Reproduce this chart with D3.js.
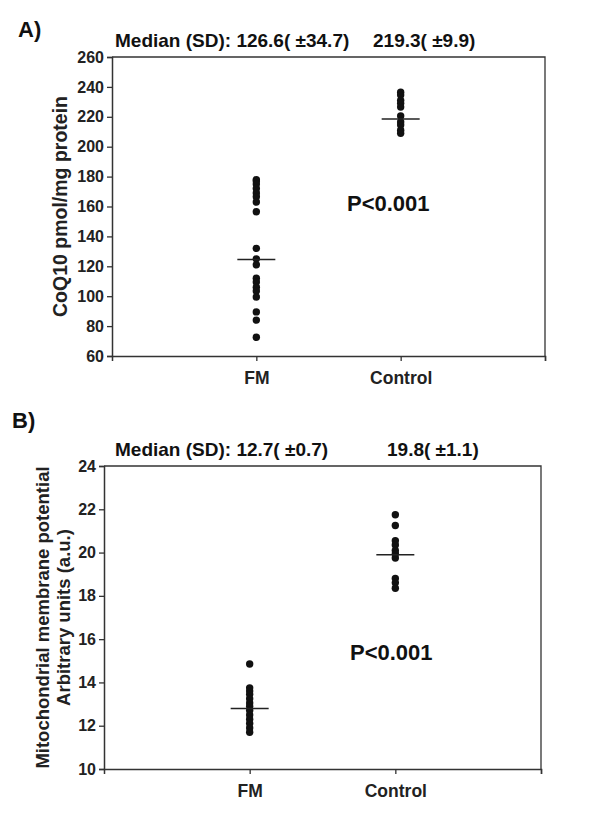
<!DOCTYPE html>
<html>
<head>
<meta charset="utf-8">
<script src="https://cdn.jsdelivr.net/npm/d3@7"></script>
<style>
    body { margin: 0; background: #fff; }
    svg { font-family: "Liberation Sans", Arial, sans-serif; font-weight: bold; }
</style>
</head>
<body>
<div id="chart"></div>
<script>
// Groups on the x axis
const categories = ["FM", "Control"];

// Panel A : CoQ10 (pmol/mg protein)
const coqFM = [178, 177, 175, 172, 169, 166.5, 163, 156.5, 132, 125, 121, 112, 109.5, 106, 103.5, 99.5, 89.5, 84, 72.5];
const coqControl = [236.5, 234.5, 231, 229, 226.5, 220.5, 216.5, 214.5, 211, 209];
const coqMedianLines = [124.5, 218.5];
const coqTicks = [60, 80, 100, 120, 140, 160, 180, 200, 220, 240, 260];
const coqSummary = ["Median (SD): 126.6( ±34.7)", "219.3( ±9.9)"];

// Panel B : mitochondrial membrane potential (a.u.)
const mmpFM = [14.85, 13.75, 13.6, 13.45, 13.25, 13.05, 12.9, 12.7, 12.5, 12.3, 12.1, 11.9, 11.7];
const mmpControl = [21.75, 21.25, 20.55, 20.35, 20.1, 19.95, 19.75, 18.8, 18.6, 18.35];
const mmpMedianLines = [12.8, 19.9];
const mmpTicks = [10, 12, 14, 16, 18, 20, 22, 24];
const mmpSummary = ["Median (SD): 12.7( ±0.7)", "19.8( ±1.1)"];

const pText = "P<0.001";
const AXIS_COLOR = "#333";

const svg = d3.select("#chart")
    .append("svg")
    .attr("width", 600)
    .attr("height", 823);

//Dessin d'un panneau (axes, points, médianes, textes)
function drawPanel(p) {
    const x = d3.scaleLinear().domain([0, 3]).range([p.left, p.right]);
    const y = d3.scaleLinear().domain(p.domain).range([p.bottom, p.top]);
    const g = svg.append("g");

    // cadre de la zone de tracé (haut et droite)
    g.append("path")
        .attr("d", `M${p.left},${p.top} H${p.right} V${p.bottom}`)
        .attr("fill", "none")
        .attr("stroke", AXIS_COLOR)
        .attr("stroke-width", 1.3);

    const yAxis = g.append("g")
        .attr("transform", `translate(${p.left},0)`)
        .call(d3.axisLeft(y).tickValues(p.ticks).tickSize(5).tickPadding(3));
    yAxis.selectAll("text").attr("font-size", 16).attr("fill", "#222");

    const xAxis = g.append("g")
        .attr("transform", `translate(0,${p.bottom})`)
        .call(d3.axisBottom(x).tickValues([1, 2, 3]).tickSize(5).tickPadding(11)
            .tickFormat((d) => categories[d - 1] || ""));
    xAxis.selectAll("text").attr("font-size", 17.5).attr("fill", "#222");

    [yAxis, xAxis].forEach((a) => {
        a.select(".domain").attr("stroke", AXIS_COLOR).attr("stroke-width", 1.5);
        a.selectAll(".tick line").attr("stroke", AXIS_COLOR).attr("stroke-width", 1.3);
        a.attr("font-family", null);
    });

    // points
    p.series.forEach((values, i) => {
        g.append("g")
            .selectAll("circle")
            .data(values)
            .join("circle")
            .attr("cx", x(i + 1))
            .attr("cy", (d) => y(d))
            .attr("r", 3.7)
            .attr("fill", "#111");
    });

    // médianes
    g.append("g")
        .selectAll("line")
        .data(p.medians)
        .join("line")
        .attr("x1", (d, i) => x(i + 1) - 19)
        .attr("x2", (d, i) => x(i + 1) + 19)
        .attr("y1", (d) => y(d))
        .attr("y2", (d) => y(d))
        .attr("stroke", "#222")
        .attr("stroke-width", 1.5);

    // titre de l'axe y (une ou deux lignes)
    const cy = (p.top + p.bottom) / 2;
    p.yTitle.forEach((t, i) => {
        g.append("text")
            .attr("transform", `translate(${p.yTitleX[i]},${cy}) rotate(-90)`)
            .attr("text-anchor", "middle")
            .attr("font-size", p.yTitleSize)
            .attr("fill", "#222")
            .text(t);
    });

    g.append("text")
        .attr("x", p.letterX).attr("y", p.letterY)
        .attr("font-size", 22).attr("fill", "#111")
        .text(p.letter);

    g.selectAll(".summary")
        .data(p.summary)
        .join("text")
        .attr("class", "summary")
        .attr("x", (d, i) => p.summaryX[i])
        .attr("y", p.top - 10)
        .attr("font-size", 19)
        .attr("fill", "#111")
        .text((d) => d);

    g.append("text")
        .attr("x", p.pX).attr("y", y(p.pAt))
        .attr("font-size", 22).attr("fill", "#111")
        .text(pText);
}

drawPanel({
    left: 112, right: 545, top: 57, bottom: 356,
    domain: [60, 260], ticks: coqTicks,
    series: [coqFM, coqControl], medians: coqMedianLines,
    yTitle: ["CoQ10 pmol/mg protein"], yTitleX: [67], yTitleSize: 19.5,
    letter: "A)", letterX: 18, letterY: 37,
    summary: coqSummary, summaryX: [115, 373],
    pX: 347, pAt: 157
});

drawPanel({
    left: 104, right: 541, top: 466, bottom: 769,
    domain: [10, 24], ticks: mmpTicks,
    series: [mmpFM, mmpControl], medians: mmpMedianLines,
    yTitle: ["Mitochondrial membrane potential", "Arbitrary units (a.u.)"], yTitleX: [49, 70], yTitleSize: 18.5,
    letter: "B)", letterX: 12, letterY: 428,
    summary: mmpSummary, summaryX: [115, 387],
    pX: 350, pAt: 15.05
});
</script>
</body>
</html>
